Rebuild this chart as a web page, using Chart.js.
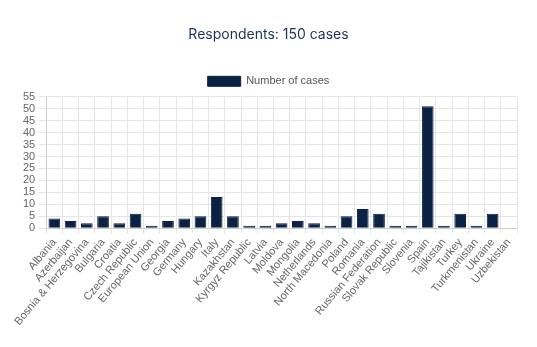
<!DOCTYPE html>
<html>
<head>
<meta charset="utf-8">
<script src="https://cdn.jsdelivr.net/npm/chart.js@4"></script>
<style>
  html, body { margin: 0; padding: 0; background: #fff; }
  #wrap { width: 537px; height: 347px; }
</style>
</head>
<body>
<div id="wrap"><canvas id="chart"></canvas></div>
<script>
// Datos del gráfico
var paises = ["Albania", "Azerbaijan", "Bosnia & Herzegovina", "Bulgaria", "Croatia",
  "Czech Republic", "European Union", "Georgia", "Germany", "Hungary", "Italy",
  "Kazakhstan", "Kyrgyz Republic", "Latvia", "Moldova", "Mongolia", "Netherlands",
  "North Macedonia", "Poland", "Romania", "Russian Federation", "Slovak Republic",
  "Slovenia", "Spain", "Tajikistan", "Turkey", "Turkmenistan", "Ukraine", "Uzbekistan"];
var casos = [4, 3, 2, 5, 2, 6, 1, 3, 4, 5, 13, 5, 1, 1, 2, 3, 2, 1, 5, 8, 6, 1, 1, 51, 1, 6, 1, 6, 0];
var titulo = "Respondents: 150 cases";
var etiquetaSerie = "Number of cases";

var chart = new Chart("chart", {
  type: "bar",
  data: {
    labels: paises,
    datasets: [{
      label: etiquetaSerie,
      data: casos,
      backgroundColor: "#0b2244",
      borderColor: "#0b2244",
      borderWidth: 1
    }]
  },
  options: {
    responsive: true,
    maintainAspectRatio: false,
    animation: false,
    layout: { padding: { left: 20, right: 20, bottom: 16 } },
    plugins: {
      title: {
        display: true,
        text: titulo,
        color: "#1d3557",
        font: { family: "Inter", size: 14, weight: "normal" },
        padding: { top: 26, bottom: 23 }
      },
      legend: {
        labels: {
          boxWidth: 33,
          boxHeight: 10,
          color: "#555",
          font: { size: 11 }
        }
      },
      tooltip: { enabled: false }
    },
    scales: {
      y: {
        beginAtZero: true,
        max: 55,
        ticks: { stepSize: 5, color: "#666", font: { size: 11 }, autoSkip: false },
        grid: { color: "#e6e6e6" }
      },
      x: {
        ticks: { color: "#666", font: { size: 11 }, maxRotation: 50, minRotation: 50, autoSkip: false },
        grid: { color: "#e6e6e6", tickLength: 5 }
      }
    }
  }
});
</script>
</body>
</html>
